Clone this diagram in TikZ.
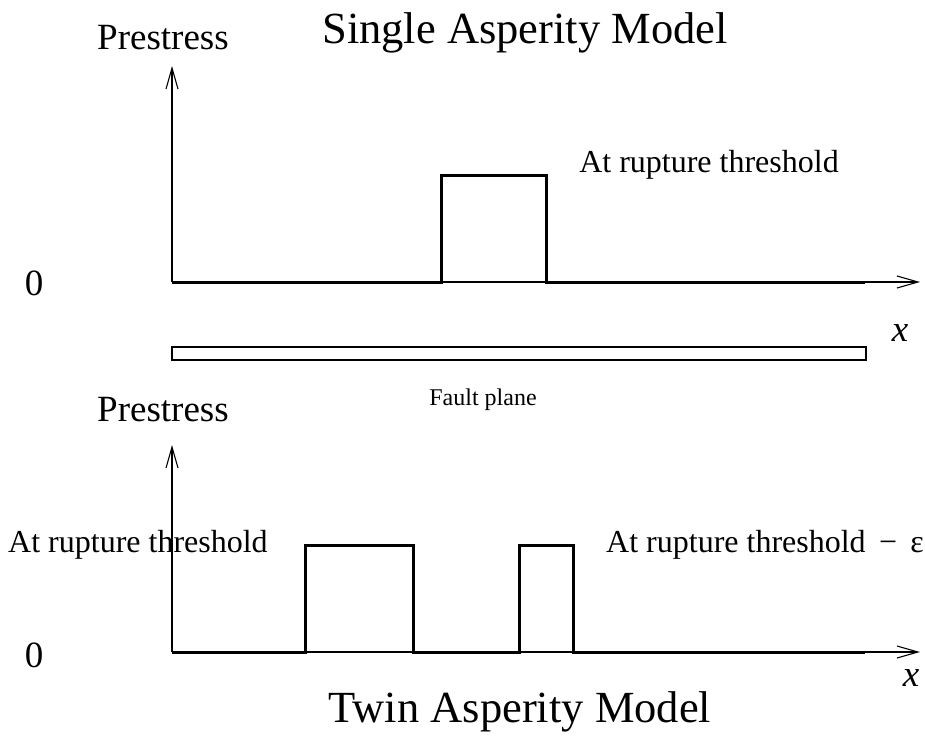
\documentclass[tikz,border=0pt]{standalone}
\usepackage{fontspec}
\setmainfont{Liberation Serif}
\usetikzlibrary{arrows.meta}
\begin{document}
\begin{tikzpicture}[x=1pt,y=-1pt,
  axis/.style={line width=1.1pt,-{Straight Barb[length=21pt,width=12pt,line width=1.1pt]}},
  profile/.style={line width=3pt,line join=miter},
  lbl/.style={inner sep=0pt,font=\fontsize{32}{32}\selectfont},
  pre/.style={inner sep=0pt,font=\fontsize{37}{37}\selectfont},
  ttl/.style={inner sep=0pt,font=\fontsize{44.5}{44.5}\selectfont}]
\useasboundingbox (0,0) rectangle (925,738);
% top panel
\coordinate (o1) at (172,282);
\coordinate (xe1) at (920,282);
\coordinate (ye1) at (172,66);
\draw[axis] (o1) -- (xe1);
\draw[axis] (o1) -- (ye1);
\draw[profile] (o1) -- (441,282) -- (441,175) -- (546,175) -- (546,282) -- (865,282);
\node[ttl] (t1) at (525,33) {Single Asperity Model};
\node[pre] (p1) at (163,38) {Prestress};
\node[pre] (z1) at (34,283) {0};
\node[lbl] (r1) at (709,165) {At rupture threshold};
\node[pre] (x1) at (900,333) {\itshape x};
% fault plane
\node[draw,line width=1.3pt,minimum width=694pt,minimum height=13pt,inner sep=0pt] (fp) at (519,353.5) {};
\node[lbl,font=\fontsize{24}{24}\selectfont] (fl) at (483,400) {Fault plane};
% bottom panel
\coordinate (o2) at (172,652);
\coordinate (xe2) at (920,652);
\coordinate (ye2) at (172,445);
\draw[axis] (o2) -- (xe2);
\draw[axis] (o2) -- (ye2);
\draw[profile] (o2) -- (305,652) -- (305,545) -- (413,545) -- (413,652) -- (519,652) -- (519,545) -- (573,545) -- (573,652) -- (865,652);
\node[pre] (p2) at (163,410) {Prestress};
\node[pre] (z2) at (34,655) {0};
\node[lbl,anchor=west] (r2) at (8,545) {At rupture threshold};
\node[lbl,anchor=west] (r3) at (606,545) {At rupture threshold \,−\, ε};
\node[pre] (x2) at (911,678) {\itshape x};
\node[ttl] (t2) at (520,712) {Twin Asperity Model};
\end{tikzpicture}
\end{document}
